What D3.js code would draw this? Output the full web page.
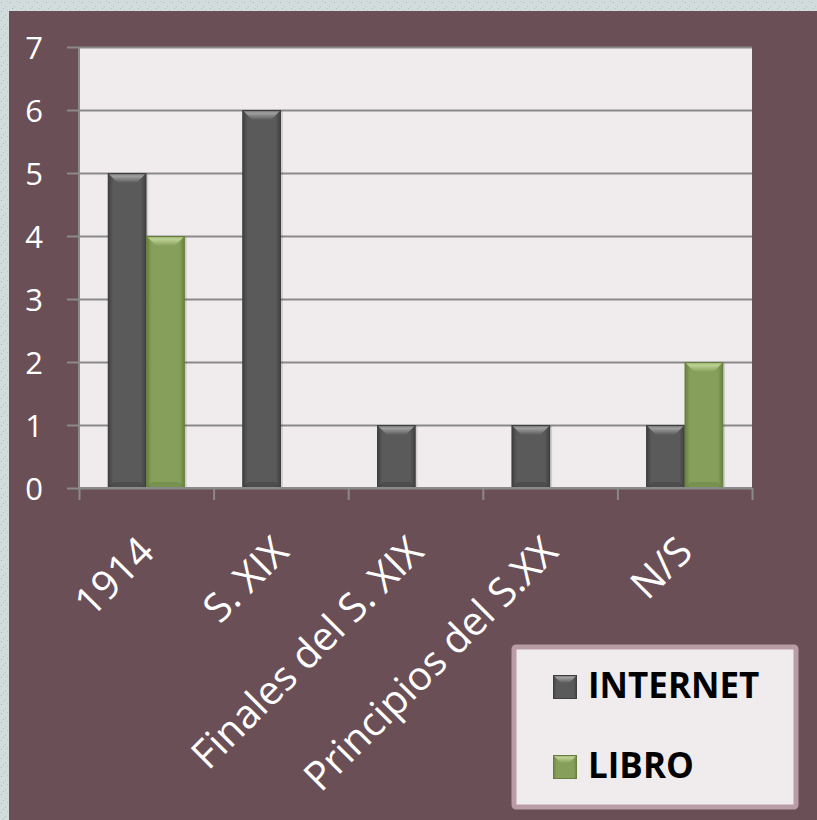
<!DOCTYPE html>
<html>
<head>
<meta charset="utf-8">
<script src="https://cdn.jsdelivr.net/npm/d3@7"></script>
<style>
  html, body { margin: 0; padding: 0; background: #d3dcdd; }
  svg { display: block; }
</style>
</head>
<body>
<svg width="817" height="820"></svg>
<script>
const categories = ['1914', 'S. XIX', 'Finales del S. XIX', 'Principios del S.XX', 'N/S']
const seriesNames = ['INTERNET', 'LIBRO']
const internet = [5, 6, 1, 1, 1]
const libro = [4, 0, 0, 0, 2]
const yTicks = [0, 1, 2, 3, 4, 5, 6, 7]

const colors = {
  INTERNET: { base: '#5a5a5a', edge: '#3f3f3f', light: '#a2a2a2' },
  LIBRO: { base: '#86a05b', edge: '#67803f', light: '#bed296' }
}

const svg = d3.select('svg')
const width = 817
const height = 820

const margin = { top: 47, right: 65, bottom: 332, left: 79 }
const inner_width = width - margin.left - margin.right
const inner_height = height - margin.top - margin.bottom

const defs = svg.append('defs')

// speckled outer background
const pat = defs.append('pattern').attr('id', 'speck')
  .attr('width', 9).attr('height', 9).attr('patternUnits', 'userSpaceOnUse')
pat.append('rect').attr('width', 9).attr('height', 9).attr('fill', '#d3dcdd')
pat.append('rect').attr('x', 1).attr('y', 2).attr('width', 1).attr('height', 1).attr('fill', '#a9b5b8')
pat.append('rect').attr('x', 5).attr('y', 6).attr('width', 1).attr('height', 1).attr('fill', '#b3bec1')
pat.append('rect').attr('x', 7).attr('y', 1).attr('width', 1).attr('height', 1).attr('fill', '#bcc6c8')
pat.append('rect').attr('x', 3).attr('y', 8).attr('width', 1).attr('height', 1).attr('fill', '#aeb9bc')

svg.append('rect').attr('width', width).attr('height', height).attr('fill', 'url(#speck)')

// chart panel
svg.append('rect')
  .attr('x', 9).attr('y', 11)
  .attr('width', width - 9).attr('height', height - 11)
  .attr('fill', '#6b4f57')

// gradients for bars
seriesNames.forEach(s => {
  const c = colors[s]
  const g = defs.append('linearGradient').attr('id', 'body-' + s)
    .attr('x1', 0).attr('x2', 1).attr('y1', 0).attr('y2', 0)
  g.append('stop').attr('offset', '0%').attr('stop-color', c.edge)
  g.append('stop').attr('offset', '14%').attr('stop-color', c.base)
  g.append('stop').attr('offset', '86%').attr('stop-color', c.base)
  g.append('stop').attr('offset', '100%').attr('stop-color', c.edge)
  const t = defs.append('linearGradient').attr('id', 'top-' + s)
    .attr('x1', 0).attr('x2', 0).attr('y1', 0).attr('y2', 1)
  t.append('stop').attr('offset', '0%').attr('stop-color', c.base)
  t.append('stop').attr('offset', '30%').attr('stop-color', c.light)
  t.append('stop').attr('offset', '100%').attr('stop-color', c.base)
})

const x0 = d3.scaleBand()
  .domain(categories)
  .range([0, inner_width])
  .padding(0)

const x1 = d3.scaleBand()
  .domain(seriesNames)
  .range([0, x0.bandwidth()])
  .paddingInner(0)
  .paddingOuter(0.75)

const xEdges = d3.scaleLinear()
  .domain([0, categories.length])
  .range([0, inner_width])

const y_scale = d3.scaleLinear()
  .domain([0, 7])
  .range([inner_height, 0])

const g = svg.append('g')
  .attr('transform', `translate(${margin.left},${margin.top})`)

g.append('rect')
  .attr('width', inner_width).attr('height', inner_height)
  .attr('fill', '#f0ecee')

// gridlines
const grid = g.append('g')
  .call(d3.axisLeft(y_scale).tickValues(yTicks).tickSize(-inner_width).tickFormat(''))
grid.select('.domain').remove()
grid.selectAll('line').attr('stroke', '#8a8a8a').attr('stroke-width', 2)

// y axis with outward ticks
const yAxis = g.append('g')
  .call(d3.axisLeft(y_scale).tickValues(yTicks).tickFormat(d3.format('d')).tickSize(12).tickPadding(24))
yAxis.select('.domain').attr('stroke', '#8a8a8a').attr('stroke-width', 2).attr('d', `M0,0V${inner_height}`)
yAxis.selectAll('line').attr('stroke', '#8a8a8a').attr('stroke-width', 2)
yAxis.selectAll('text')
  .attr('fill', '#ffffff')
  .style('font-family', '"Open Sans", sans-serif')
  .style('font-size', '31px')
  .attr('dy', '0.36em')

// bars
const rows = categories.map((c, i) => ({ cat: c, INTERNET: internet[i], LIBRO: libro[i] }))

const bevel = 10
rows.forEach(r => {
  seriesNames.forEach(s => {
    const v = r[s]
    if (!v) return
    const x = x0(r.cat) + x1(s)
    const w = x1.bandwidth()
    const yTop = y_scale(v)
    const h = y_scale(0) - yTop
    const c = colors[s]
    const bar = g.append('g')
    bar.append('rect')
      .attr('x', x + 2).attr('y', yTop + 1)
      .attr('width', w).attr('height', h)
      .attr('fill', '#000').attr('opacity', 0.12)
    bar.append('rect')
      .attr('x', x).attr('y', yTop)
      .attr('width', w).attr('height', h)
      .attr('fill', `url(#body-${s})`)
    bar.append('polygon')
      .attr('points', [[x, yTop], [x + w, yTop], [x + w - bevel, yTop + bevel], [x + bevel, yTop + bevel]].join(' '))
      .attr('fill', `url(#top-${s})`)
    bar.append('polygon')
      .attr('points', [[x, yTop + h], [x + w, yTop + h], [x + w - 6, yTop + h - 6], [x + 6, yTop + h - 6]].join(' '))
      .attr('fill', c.edge).attr('opacity', 0.45)
    bar.append('rect')
      .attr('x', x + 0.5).attr('y', yTop + 0.5)
      .attr('width', w - 1).attr('height', h - 1)
      .attr('fill', 'none').attr('stroke', c.edge).attr('stroke-width', 1)
  })
})

// x axis line and boundary ticks
const xAxis = g.append('g')
  .attr('transform', `translate(0,${inner_height})`)
  .call(d3.axisBottom(xEdges).ticks(categories.length).tickSize(12).tickFormat(''))
xAxis.select('.domain').attr('stroke', '#8a8a8a').attr('stroke-width', 2).attr('d', `M0,0H${inner_width}`)
xAxis.selectAll('line').attr('stroke', '#8a8a8a').attr('stroke-width', 2)

// rotated category labels
g.append('g').selectAll('text').data(categories)
  .enter().append('text')
  .attr('transform', d => `translate(${x0(d) + x0.bandwidth() / 2 + 10},${inner_height + 66}) rotate(-45)`)
  .attr('text-anchor', 'end')
  .attr('fill', '#ffffff')
  .style('font-family', '"Open Sans", sans-serif')
  .style('font-size', '40px')
  .text(d => d)

// legend
const legend = svg.append('g').attr('transform', 'translate(512,645)')
legend.append('rect')
  .attr('x', 2).attr('y', 2).attr('width', 282).attr('height', 160)
  .attr('rx', 2)
  .attr('fill', '#f0ecee').attr('stroke', '#b99ca5').attr('stroke-width', 5)

seriesNames.forEach((s, i) => {
  const item = legend.append('g').attr('transform', `translate(41,${30 + i * 80})`)
  const c = colors[s]
  const sz = 24
  item.append('rect').attr('width', sz).attr('height', sz).attr('fill', `url(#body-${s})`)
  item.append('polygon')
    .attr('points', [[0, 0], [sz, 0], [sz - 8, 8], [8, 8]].join(' '))
    .attr('fill', `url(#top-${s})`)
  item.append('rect').attr('x', 0.5).attr('y', 0.5).attr('width', sz - 1).attr('height', sz - 1)
    .attr('fill', 'none').attr('stroke', c.edge)
  item.append('text')
    .attr('x', 35).attr('y', sz - 1)
    .attr('fill', '#000000')
    .style('font-family', '"Open Sans", sans-serif')
    .style('font-weight', 'bold')
    .style('font-size', '35px')
    .text(s)
})
</script>
</body>
</html>
